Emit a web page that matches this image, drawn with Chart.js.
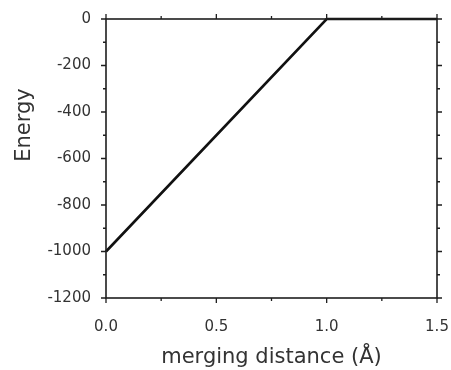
<!DOCTYPE html>
<html>
<head>
<meta charset="utf-8">
<script src="https://cdn.jsdelivr.net/npm/chart.js@4/dist/chart.umd.min.js"></script>
<style>
  html, body { margin: 0; padding: 0; background: #fff; }
  #wrap { width: 451px; height: 370px; }
</style>
</head>
<body>
<div id="wrap"><canvas id="energyChart"></canvas></div>
<script>
// merging distance (Å) vs energy
const distances = [0.0, 1.0, 1.5];
const energies = [-1000, 0, 0];

const xMajorTicks = [0.0, 0.5, 1.0, 1.5];
const xMinorTicks = [0.25, 0.75, 1.25];
const yMajorTicks = [-1200, -1000, -800, -600, -400, -200, 0];
const yMinorTicks = [-1100, -900, -700, -500, -300, -100];

const xTitle = 'merging distance (Å)';
const yTitle = 'Energy';

const frameColor = '#1e1e1e';
const textColor = '#333';

// box around plot + outward ticks on all four sides
const framePlugin = {
    id: 'frame',
    afterDatasetsDraw(chart) {
        const { ctx, chartArea: a, scales } = chart;
        const x = scales.x, y = scales.y;
        ctx.save();
        ctx.strokeStyle = frameColor;
        ctx.lineWidth = 1.6;
        ctx.strokeRect(a.left, a.top, a.right - a.left, a.bottom - a.top);

        ctx.lineWidth = 1.3;
        ctx.beginPath();
        const tickX = (vals, len) => vals.forEach(v => {
            const px = x.getPixelForValue(v);
            ctx.moveTo(px, a.bottom); ctx.lineTo(px, a.bottom + len);
            ctx.moveTo(px, a.top); ctx.lineTo(px, a.top - len);
        });
        const tickY = (vals, len) => vals.forEach(v => {
            const py = y.getPixelForValue(v);
            ctx.moveTo(a.left, py); ctx.lineTo(a.left - len, py);
            ctx.moveTo(a.right, py); ctx.lineTo(a.right + len, py);
        });
        tickX(xMajorTicks, 5);
        tickX(xMinorTicks, 3);
        tickY(yMajorTicks, 5);
        tickY(yMinorTicks, 3);
        ctx.stroke();

        // y axis title
        ctx.fillStyle = textColor;
        ctx.font = '21px "DejaVu Sans"';
        ctx.textAlign = 'center';
        ctx.textBaseline = 'middle';
        ctx.translate(25, a.top + (a.bottom - a.top) * 0.38);
        ctx.rotate(-Math.PI / 2);
        ctx.fillText(yTitle, 0, 0);
        ctx.restore();
    }
};

new Chart(document.getElementById('energyChart'), {
    type: 'line',
    data: {
        datasets: [{
            data: distances.map((d, i) => ({ x: d, y: energies[i] })),
            borderColor: '#111',
            borderWidth: 2.6,
            pointRadius: 0,
            tension: 0,
            clip: false
        }]
    },
    options: {
        responsive: true,
        maintainAspectRatio: false,
        animation: false,
        events: [],
        layout: { padding: { top: 19, right: 14, left: 0, bottom: 0 } },
        plugins: {
            legend: { display: false },
            tooltip: { enabled: false }
        },
        scales: {
            x: {
                type: 'linear',
                min: 0,
                max: 1.5,
                afterBuildTicks: s => { s.ticks = xMajorTicks.map(v => ({ value: v })); },
                afterFit: s => { s.height = 72; s.paddingLeft = 0; s.paddingRight = 0; },
                grid: { display: false },
                border: { display: false },
                ticks: {
                    padding: 12,
                    color: textColor,
                    font: { family: 'DejaVu Sans', size: 15 },
                    callback: v => v.toFixed(1)
                },
                title: {
                    display: true,
                    text: xTitle,
                    color: textColor,
                    font: { family: 'DejaVu Sans', size: 21 },
                    padding: { top: 3, bottom: 0 }
                }
            },
            y: {
                type: 'linear',
                min: -1200,
                max: 0,
                afterBuildTicks: s => { s.ticks = yMajorTicks.map(v => ({ value: v })); },
                afterFit: s => { s.width = 106; s.paddingTop = 0; s.paddingBottom = 0; },
                grid: { display: false },
                border: { display: false },
                ticks: {
                    padding: 7,
                    color: textColor,
                    font: { family: 'DejaVu Sans', size: 15 },
                    callback: v => String(v)
                }
            }
        }
    },
    plugins: [framePlugin]
});
</script>
</body>
</html>
